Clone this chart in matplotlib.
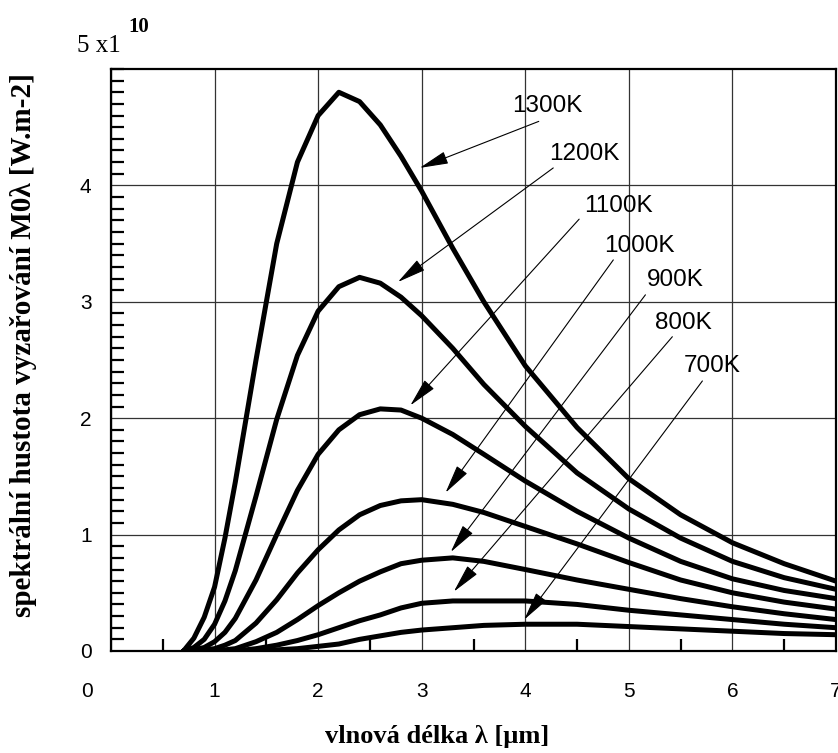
import matplotlib.pyplot as plt
from matplotlib.ticker import MultipleLocator
from matplotlib.transforms import ScaledTranslation

# vlnová délka [um] a spektrální hustota vyzařování [x1e10 W.m-3]
wavelength = [0.7, 0.8, 0.9, 1.0, 1.1, 1.2, 1.4, 1.6, 1.8, 2.0, 2.2, 2.4,
              2.6, 2.8, 3.0, 3.3, 3.6, 4.0, 4.5, 5.0, 5.5, 6.0, 6.5, 7.0]
m1300 = [0.0, 0.11, 0.29, 0.55, 0.97, 1.45, 2.5, 3.5, 4.2, 4.6, 4.8, 4.72,
         4.52, 4.25, 3.95, 3.46, 3.0, 2.45, 1.92, 1.48, 1.17, 0.93, 0.75, 0.6]
m1200 = [0.0, 0.03, 0.10, 0.23, 0.43, 0.69, 1.33, 1.99, 2.54, 2.92, 3.13, 3.21,
         3.16, 3.04, 2.88, 2.60, 2.29, 1.93, 1.53, 1.22, 0.97, 0.77, 0.63, 0.53]
m1100 = [0.0, 0.01, 0.03, 0.08, 0.16, 0.28, 0.61, 1.0, 1.38, 1.69, 1.9, 2.03,
         2.08, 2.07, 2.0, 1.86, 1.69, 1.46, 1.2, 0.97, 0.77, 0.62, 0.52, 0.45]
m1000 = [0.0, 0.0, 0.01, 0.02, 0.05, 0.09, 0.24, 0.44, 0.67, 0.87, 1.04, 1.17,
         1.25, 1.29, 1.3, 1.26, 1.19, 1.07, 0.92, 0.76, 0.61, 0.50, 0.42, 0.36]
m900 = [0.0, 0.0, 0.0, 0.0, 0.01, 0.02, 0.08, 0.16, 0.27, 0.39, 0.50, 0.60,
        0.68, 0.75, 0.78, 0.80, 0.77, 0.70, 0.61, 0.53, 0.45, 0.38, 0.32, 0.27]
m800 = [0.0, 0.0, 0.0, 0.0, 0.0, 0.0, 0.02, 0.05, 0.09, 0.14, 0.20, 0.26,
        0.31, 0.37, 0.41, 0.43, 0.43, 0.43, 0.40, 0.35, 0.31, 0.27, 0.23, 0.20]
m700 = [0.0, 0.0, 0.0, 0.0, 0.0, 0.0, 0.0, 0.01, 0.02, 0.04, 0.06, 0.10,
        0.13, 0.16, 0.18, 0.20, 0.22, 0.23, 0.23, 0.21, 0.19, 0.17, 0.15, 0.14]

curves = [m1300, m1200, m1100, m1000, m900, m800, m700]
temps = ['1300K', '1200K', '1100K', '1000K', '900K', '800K', '700K']

# popisky a šipky (umístění v souřadnicích grafu)
label_xy = [(4.21, 4.68), (4.57, 4.27), (4.9, 3.82), (5.1, 3.48),
            (5.45, 3.19), (5.53, 2.82), (5.8, 2.45)]
arrow_from = [(4.13, 4.55), (4.27, 4.15), (4.52, 3.71), (4.85, 3.36),
              (5.16, 3.06), (5.42, 2.70), (5.71, 2.32)]
arrow_to = [(2.98, 4.15), (2.77, 3.17), (2.89, 2.11), (3.23, 1.36),
            (3.28, 0.85), (3.31, 0.51), (3.99, 0.27)]

sans = 'Liberation Sans'
serif = 'Liberation Serif'

fig = plt.figure(figsize=(8.38, 7.53), dpi=100)
ax = fig.add_axes([111 / 838, 1 - 651 / 753, 725 / 838, 582 / 753])

for m in curves:
    ax.plot(wavelength, m, color='black', lw=3.6, solid_capstyle='round',
            solid_joinstyle='round', zorder=3)

for t, lxy, a0, a1 in zip(temps, label_xy, arrow_from, arrow_to):
    ax.text(lxy[0], lxy[1], t, ha='center', va='center', fontsize=17.5,
            family=sans, zorder=5)
    ax.annotate('', xy=a1, xytext=a0,
                arrowprops=dict(arrowstyle='-|>,head_length=1.5,head_width=0.33',
                                mutation_scale=12, lw=0.8, color='black',
                                shrinkA=0, shrinkB=0), zorder=4)

ax.set_xlim(0, 7)
ax.set_ylim(0, 5)
ax.set_xticks(range(0, 8))
ax.set_yticks(range(0, 5))
ax.xaxis.set_minor_locator(MultipleLocator(0.5))
ax.yaxis.set_minor_locator(MultipleLocator(0.1))
ax.grid(True, which='major', color='#333333', lw=0.9)
ax.tick_params(which='major', length=0, pad=14, labelsize=15)
ax.tick_params(axis='x', which='major', pad=22)
ax.tick_params(which='minor', direction='in', width=1.6, color='black')
ax.tick_params(axis='x', which='minor', length=9)
ax.tick_params(axis='y', which='minor', length=9.5)
for lab in ax.get_xticklabels() + ax.get_yticklabels():
    lab.set_family(sans)
# popisek "0" na ose x je v originále posunut doleva
first = ax.get_xticklabels()[0]
first.set_transform(first.get_transform() +
                    ScaledTranslation(-24 / 100, 0, fig.dpi_scale_trans))
for s in ax.spines.values():
    s.set_linewidth(1.6)

ax.set_xlabel('vlnová délka λ [µm]', fontsize=19, fontweight='bold',
              family=serif, va='center')
ax.xaxis.set_label_coords(0.45, -0.147)
ax.set_ylabel('spektrální hustota vyzařování M0λ [W.m-2]', fontsize=21,
              fontweight='bold', family=serif, va='center')
ax.yaxis.set_label_coords(-0.12, 0.526)

fig.text(99 / 838, 1 - 46 / 753, '5 x1', ha='center', va='center',
         fontsize=18, family=serif)
fig.text(139 / 838, 1 - 27 / 753, '10', ha='center', va='center',
         fontsize=15, fontweight='bold', family=serif)

fig.savefig('out.png', dpi=100)
